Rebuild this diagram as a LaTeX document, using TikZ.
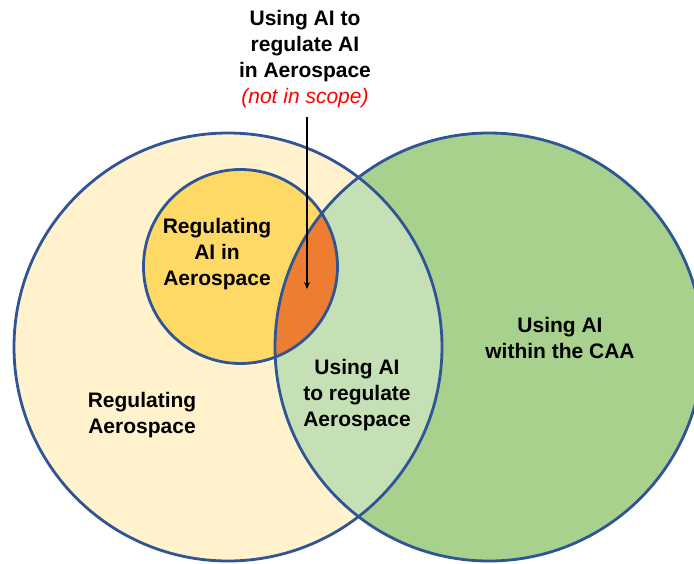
\documentclass[tikz,border=0pt]{standalone}
\usepackage{fontspec}
\setmainfont{Liberation Sans}
\usetikzlibrary{arrows.meta}
\definecolor{cream}{HTML}{FFF2CC}
\definecolor{gold}{HTML}{FFD966}
\definecolor{orangex}{HTML}{ED7D31}
\definecolor{greenx}{HTML}{A9D18E}
\definecolor{lightgreenx}{HTML}{C5E0B4}
\definecolor{bluex}{HTML}{2F5597}
\definecolor{redx}{HTML}{FF0000}
\tikzset{
  outline/.style={draw=bluex, line width=2.8pt},
  lbl/.style={align=center, font=\fontsize{21}{26}\selectfont\bfseries, text=black, inner sep=0pt},
  pointer/.style={-{Stealth[length=7pt,width=6pt]}, line width=1.6pt, black}
}
\begin{document}
\begin{tikzpicture}[x=1pt,y=-1pt]
\useasboundingbox (0,0) rectangle (694,563);
\fill[white] (0,0) rectangle (694,563);
\coordinate (L) at (228,347);
\coordinate (R) at (489,347);
\coordinate (S) at (240.5,266.5);
% fills
\fill[cream] (L) circle[radius=214pt];
\fill[greenx] (R) circle[radius=214pt];
\begin{scope}
  \clip (L) circle[radius=214pt];
  \fill[lightgreenx] (R) circle[radius=214pt];
\end{scope}
\fill[gold] (S) circle[radius=97pt];
\begin{scope}
  \clip (R) circle[radius=214pt];
  \fill[orangex] (S) circle[radius=97pt];
\end{scope}
% outlines
\draw[outline] (L) circle[radius=214pt];
\draw[outline] (R) circle[radius=214pt];
\draw[outline] (S) circle[radius=97pt];
% labels
\node[lbl] (top) at (305,59) {Using AI to\\regulate AI\\in Aerospace\\{\normalfont\itshape\color{redx}(not in scope)}};
\node[lbl] (ais) at (217,254) {Regulating\\AI in\\Aerospace};
\node[lbl] (reg) at (142,415) {Regulating\\Aerospace};
\node[lbl] (use) at (357,395) {Using AI\\to regulate\\Aerospace};
\node[lbl] (caa) at (560,338) {Using AI\\within the CAA};
% arrow
\coordinate (tail) at (307,117);
\coordinate (tip) at (307,289);
\draw[pointer] (tail) -- (tip);
\end{tikzpicture}
\end{document}
